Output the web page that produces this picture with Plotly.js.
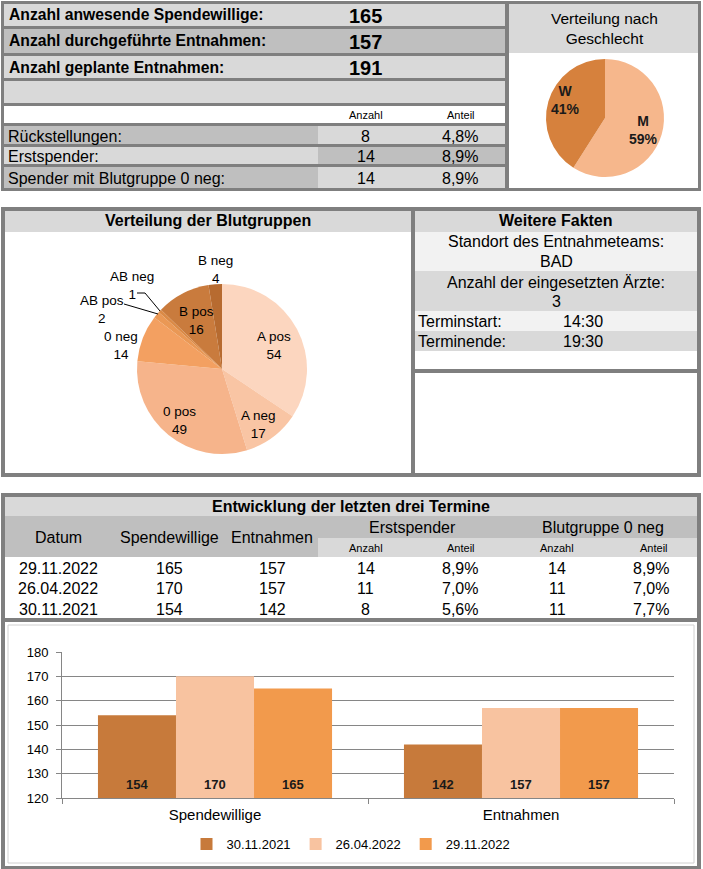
<!DOCTYPE html>
<html><head><meta charset="utf-8">
<script src="https://cdn.plot.ly/plotly-3.0.1.min.js"></script>
<style>html,body{margin:0;padding:0;background:#fff;}#chart{width:703px;height:869px;}</style>
</head><body><div id="chart"></div>
<script>
// ---------- data ----------
const kpiLabels = ['Anzahl anwesende Spendewillige:', 'Anzahl durchgeführte Entnahmen:', 'Anzahl geplante Entnahmen:'];
const kpiValues = [165, 157, 191];
const detailHeader = ['Anzahl', 'Anteil'];
const detailLabels = ['Rückstellungen:', 'Erstspender:', 'Spender mit Blutgruppe 0 neg:'];
const detailCounts = [8, 14, 14];
const detailShares = ['4,8%', '8,9%', '8,9%'];

const genderTitle = 'Verteilung nach<br>Geschlecht';
const genderLabels = ['M', 'W'];
const genderShares = [59, 41];
const genderColors = ['#f6b78c', '#d6813d'];

const bloodTitle = 'Verteilung der Blutgruppen';
const bloodLabels = ['A pos', 'A neg', '0 pos', '0 neg', 'AB pos', 'AB neg', 'B pos', 'B neg'];
const bloodCounts = [54, 17, 49, 14, 2, 1, 16, 4];
const bloodColors = ['#fcd6bf', '#f9c5a4', '#f6b48b', '#f3a061', '#ea9855', '#db8a46', '#c97b3d', '#b76b30'];

const factsTitle = 'Weitere Fakten';
const factCentered = [['Standort des Entnahmeteams:', 'BAD'], ['Anzahl der eingesetzten Ärzte:', '3']];
const factTimes = [['Terminstart:', '14:30'], ['Terminende:', '19:30']];

const historyTitle = 'Entwicklung der letzten drei Termine';
const historyHeaders = ['Datum', 'Spendewillige', 'Entnahmen'];
const historyGroups = ['Erstspender', 'Blutgruppe 0 neg'];
const historySub = ['Anzahl', 'Anteil', 'Anzahl', 'Anteil'];
const historyDates = ['29.11.2022', '26.04.2022', '30.11.2021'];
const historyDonors = [165, 170, 154];
const historyDraws = [157, 157, 142];
const historyFirstCount = [14, 11, 8];
const historyFirstShare = ['8,9%', '7,0%', '5,6%'];
const historyNegCount = [14, 11, 11];
const historyNegShare = ['8,9%', '7,0%', '7,7%'];

const barCategories = ['Spendewillige', 'Entnahmen'];
const barDateOrder = ['30.11.2021', '26.04.2022', '29.11.2022'];
const barColors = ['#c77a3b', '#f8c3a0', '#f29a4c'];

// ---------- helpers ----------
const W = 703, H = 869;
const F = 'Liberation Sans, Arial, sans-serif';
const X = px => px / W;
const Y = py => 1 - py / H;
const shapes = [];
const ann = [];
function rect(x0, y0, x1, y1, fill) {
  shapes.push({type: 'rect', xref: 'paper', yref: 'paper', x0: X(x0), x1: X(x1), y0: Y(y1), y1: Y(y0),
    fillcolor: fill, line: {width: 0}, layer: 'below'});
}
function line(x0, y0, x1, y1, color, w) {
  shapes.push({type: 'line', xref: 'paper', yref: 'paper', x0: X(x0), x1: X(x1), y0: Y(y0), y1: Y(y1),
    line: {color: color, width: w}, layer: 'above'});
}
function txt(x, y, s, size, opt) {
  opt = opt || {};
  ann.push({xref: 'paper', yref: 'paper', x: X(x), y: Y(y), text: opt.bold ? '<b>' + s + '</b>' : String(s),
    showarrow: false, xanchor: opt.anchor || 'center', yanchor: 'middle',
    font: {family: F, size: size, color: opt.color || '#000'}});
}
const G = '#7f7f7f', L1 = '#d9d9d9', L2 = '#bfbfbf', L3 = '#f2f2f2';

// ---------- top block ----------
rect(1, 1, 701, 191, G);
const topRows = [[4, 26], [29, 53], [56, 78], [81, 103], [106, 123], [126, 144], [147, 164], [167, 188]];
const topFill = [L1, L2, L1, L1, '#ffffff'];
topFill.forEach((c, i) => rect(4, topRows[i][0], 505, topRows[i][1], c));
for (let i = 0; i < 3; i++) {
  const r = topRows[5 + i];
  rect(4, r[0], 318, r[1], i % 2 === 0 ? L2 : L1);
  rect(318, r[0], 505, r[1], i % 2 === 0 ? L1 : L2);
}
rect(509, 4, 698, 53, L1);
rect(509, 53, 698, 188, '#ffffff');

kpiLabels.forEach((l, i) => {
  const yc = (topRows[i][0] + topRows[i][1]) / 2;
  txt(7, yc, l, 15.7, {anchor: 'left', bold: true});
  txt(366, yc + 1, kpiValues[i], 20, {bold: true});
});
txt(366, 115, detailHeader[0], 11);
txt(461, 115, detailHeader[1], 11);
detailLabels.forEach((l, i) => {
  const r = topRows[5 + i];
  const yc = (r[0] + r[1]) / 2 + 1;
  txt(6, yc, l, 16, {anchor: 'left'});
  txt(366, yc, detailCounts[i], 16);
  txt(460, yc, detailShares[i], 16);
});
txt(604, 29, genderTitle, 15.5);
// gender slice labels
const genderTotal = genderShares.reduce((a, b) => a + b, 0);
const genderLabelPos = [[643, 130], [565, 100]];
genderLabels.forEach((l, i) => {
  txt(genderLabelPos[i][0], genderLabelPos[i][1],
      l + '<br>' + Math.round(genderShares[i] / genderTotal * 100) + '%', 14, {bold: true, color: '#1a1a1a'});
});

// ---------- middle block ----------
rect(1, 207, 701, 477, G);
rect(5, 211, 411, 232, L1);
rect(5, 232, 411, 473, '#ffffff');
rect(415, 211, 697, 232, L1);
rect(415, 232, 697, 271, L3);
rect(415, 271, 697, 311, L1);
rect(415, 311, 697, 331, L3);
rect(415, 331, 697, 351, L1);
rect(415, 351, 697, 369, '#ffffff');
rect(415, 373, 697, 473, '#ffffff');

txt(208, 221, bloodTitle, 16, {bold: true});
txt(556, 221, factsTitle, 16, {bold: true});
factCentered.forEach((p, i) => {
  txt(556, 242 + i * 40, p[0], 16);
  txt(556, 261 + i * 40, p[1], 16);
});
factTimes.forEach((p, i) => {
  txt(416, 321 + i * 20, p[0], 16, {anchor: 'left'});
  txt(561, 321 + i * 20, p[1], 16, {anchor: 'left'});
});

// blood group slice labels (same places as the reference)
const bloodLabelPos = [[274, 345], [258, 424], [179, 420], [121, 345], [102, 309], [132, 285], [196, 320], [215, 269]];
bloodLabels.forEach((l, i) => {
  txt(bloodLabelPos[i][0], bloodLabelPos[i][1], l + '<br>' + bloodCounts[i], 13.5);
});
line(124, 304, 158, 314, '#000', 1);
line(137, 293, 145, 293, '#000', 1);
line(145, 293, 160, 311, '#000', 1);

// ---------- bottom block ----------
rect(1, 493, 701, 869, G);
rect(5, 497, 697, 516, L1);
rect(5, 516, 318, 557, L2);
rect(318, 516, 697, 538, L2);
rect(318, 538, 697, 557, L1);
rect(5, 557, 697, 618, '#ffffff');
rect(5, 622, 697, 866, '#ffffff');
shapes.push({type: 'rect', xref: 'paper', yref: 'paper', x0: X(8), x1: X(694), y0: Y(863), y1: Y(625),
  line: {color: '#d0d0d0', width: 1}, layer: 'below'});

txt(351, 506, historyTitle, 16, {bold: true});
const colX = [58, 169, 272, 366, 460, 557, 651];
historyHeaders.forEach((h, i) => txt(colX[i], 537, h, 16));
txt(413, 527, historyGroups[0], 16);
txt(603, 527, historyGroups[1], 16);
const subX = [366, 461, 557, 654];
historySub.forEach((h, i) => txt(subX[i], 548, h, 11));
historyDates.forEach((d, i) => {
  const yc = 568 + i * 20.5;
  const row = [d, historyDonors[i], historyDraws[i], historyFirstCount[i], historyFirstShare[i], historyNegCount[i], historyNegShare[i]];
  row.forEach((v, j) => txt(colX[j], yc, v, 16));
});

// ---------- traces ----------
const traces = [];
traces.push({
  type: 'pie', labels: genderLabels, values: genderShares, sort: false, direction: 'clockwise', rotation: 0,
  marker: {colors: genderColors, line: {width: 0}}, textinfo: 'none', textposition: 'none',
  showlegend: false, hoverinfo: 'label+percent',
  domain: {x: [X(545), X(665)], y: [Y(177), Y(59)]}
});
traces.push({
  type: 'pie', labels: bloodLabels, values: bloodCounts, sort: false, direction: 'clockwise', rotation: 0,
  marker: {colors: bloodColors, line: {width: 0}}, textinfo: 'none', textposition: 'none',
  showlegend: false, hoverinfo: 'label+value',
  domain: {x: [X(137), X(307)], y: [Y(454), Y(284)]}
});
const bargap = 0.235;
const plotX0 = 62, plotX1 = 674, yMin = 120;
const barW = (plotX1 - plotX0) / barCategories.length * (1 - bargap) / barDateOrder.length;
barDateOrder.forEach((d, k) => {
  const i = historyDates.indexOf(d);
  const vals = [historyDonors[i], historyDraws[i]];
  traces.push({
    type: 'bar', name: d, x: barCategories, y: vals,
    marker: {color: barColors[k], line: {width: 0}}, textposition: 'none',
    xaxis: 'x', yaxis: 'y'
  });
  // value labels at the visible base of each bar
  barCategories.forEach((c, j) => {
    ann.push({xref: 'x', yref: 'y', x: c, y: yMin, text: '<b>' + vals[j] + '</b>', showarrow: false,
      xanchor: 'center', yanchor: 'bottom', yshift: 4, xshift: (k - (barDateOrder.length - 1) / 2) * barW,
      font: {family: F, size: 13, color: '#1a1a1a'}});
  });
});

const layout = {
  width: W, height: H, margin: {l: 0, r: 0, t: 0, b: 0}, paper_bgcolor: '#ffffff', plot_bgcolor: 'rgba(0,0,0,0)',
  font: {family: F, color: '#000'},
  barmode: 'group', bargap: bargap, bargroupgap: 0,
  xaxis: {domain: [X(plotX0), X(plotX1)], anchor: 'y', type: 'category', tickson: 'boundaries', ticks: 'outside', ticklen: 5,
    tickcolor: '#868686', showline: true, linecolor: '#868686', linewidth: 1, showgrid: false, ticklabelstandoff: 3,
    tickfont: {family: F, size: 15, color: '#000'}, fixedrange: true},
  yaxis: {domain: [Y(798), Y(652)], anchor: 'x', range: [yMin, 180], tick0: 120, dtick: 10, ticks: 'outside', ticklen: 5,
    tickcolor: '#868686', showline: true, linecolor: '#868686', gridcolor: '#868686', gridwidth: 1, zeroline: false,
    ticklabelstandoff: 5, tickfont: {family: F, size: 13, color: '#000'}, fixedrange: true},
  showlegend: true,
  legend: {orientation: 'h', x: X(351), xanchor: 'center', y: Y(844), yanchor: 'middle', itemwidth: 30,
    font: {family: F, size: 13, color: '#000'}, bgcolor: 'rgba(0,0,0,0)', itemclick: false, itemdoubleclick: false},
  shapes: shapes, annotations: ann
};
Plotly.newPlot('chart', traces, layout, {displayModeBar: false, staticPlot: true});
</script>
</body></html>
